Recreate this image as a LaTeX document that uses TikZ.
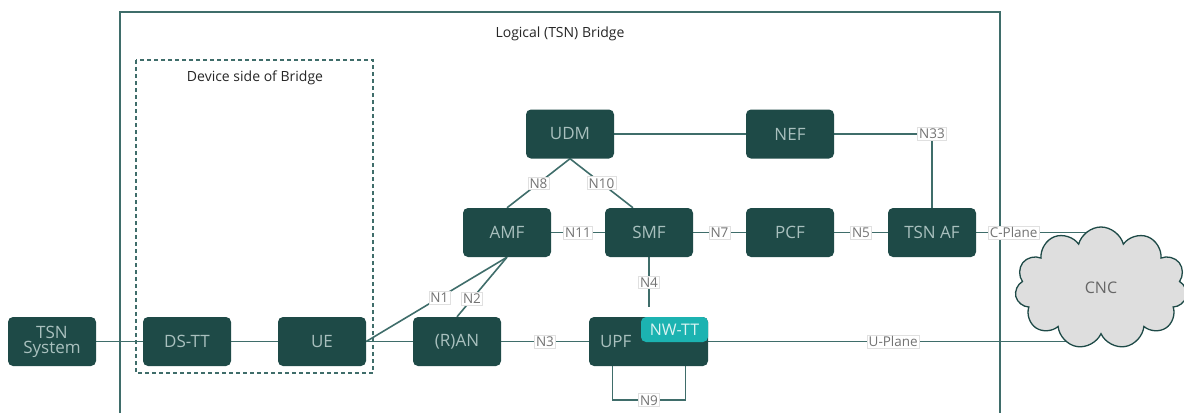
\documentclass[tikz,border=0pt]{standalone}
\usepackage{fontspec}
\setmainfont{Open Sans}
\usetikzlibrary{positioning,shapes.symbols,backgrounds}

\definecolor{nfdark}{HTML}{1E4A47}
\definecolor{nftext}{HTML}{A9C0BE}
\definecolor{link}{HTML}{3F6D6A}
\definecolor{ttcyan}{HTML}{1CB3B1}
\definecolor{cloudgray}{HTML}{DEDEDE}

\begin{document}
\begin{tikzpicture}[
  x=1pt, y=-1pt,
  nf/.style={fill=nfdark, text=nftext, rounded corners=5pt, align=center, inner sep=2pt,
    minimum width=88pt, minimum height=49pt, font=\fontsize{17}{19}\selectfont},
  ln/.style={draw=link, line width=1.6pt},
  lbl/.style={fill=white, draw=black!12, line width=0.6pt, text=black!55, inner sep=1.5pt,
    font=\fontsize{13.5}{14}\selectfont},
  ttl/.style={text=black!85, font=\fontsize{14}{16}\selectfont},
]
\useasboundingbox (0,0) rectangle (1184,413);

% network functions
\node[nf] (tsnsys) at (52,341.5) {TSN\\[-4pt]System};
\node[nf] (dstt) at (187,341.5) {DS-TT};
\node[nf] (ue) at (322,341.5) {UE};
\node[nf] (ran) at (457,341.5) {(R)AN};
\node[nf, minimum width=119pt, text width=97pt, inner xsep=11pt, align=left] (upf) at (648.5,341.5) {UPF};
\node[nf, fill=ttcyan, text=white!85!ttcyan, minimum width=67pt, minimum height=25pt, font=\fontsize{16}{18}\selectfont] (nwtt) at (674.5,329.5) {NW-TT};
\node[nf] (amf) at (507,232.5) {AMF};
\node[nf] (smf) at (649,232.5) {SMF};
\node[nf] (pcf) at (790,232.5) {PCF};
\node[nf] (tsnaf) at (932,232.5) {TSN AF};
\node[nf] (udm) at (570,134) {UDM};
\node[nf] (nef) at (790,134) {NEF};
\node[cloud, cloud puffs=11, aspect=1.4, draw=nfdark, fill=cloudgray, line width=1.3pt,
  minimum width=172pt, minimum height=122pt, text=black!60, font=\fontsize{16}{18}\selectfont] (cnc) at (1101,288) {CNC};

\node[ttl] (brtitle) at (560,34) {Logical (TSN) Bridge};
\node[ttl] (devtitle) at (255,78) {Device side of Bridge};

\begin{scope}[on background layer]
% bridge frame, open at the bottom
\draw[ln] (120,413) -- (120,12) -- (1000,12) -- (1000,413);
\draw[ln, line width=1.3pt, dash pattern=on 4pt off 3pt] (136,60) rectangle (373,373);

% user plane
\draw[ln] (tsnsys) -- (dstt);
\draw[ln] (dstt) -- (ue);
\draw[ln] (ue) -- (ran);
\draw[ln] (ran) -- node[lbl] {N3} (upf);
\draw[ln] (upf) -- node[lbl, pos=0.51] {U-Plane} ([xshift=-30pt]cnc.center |- upf);
\draw[ln] ([xshift=-36pt]upf.south) -- ++(0,34) -| node[lbl, pos=0.25] {N9} ([xshift=37pt]upf.south);

% control plane
\draw[ln] (ue.east) -- node[lbl, pos=0.52] {N1} (amf.south);
\draw[ln] (ran.north) -- node[lbl, pos=0.3] {N2} (amf.south);
\draw[ln] (udm.south) -- node[lbl] {N8} (amf.north);
\draw[ln] (udm.south) -- node[lbl] {N10} ([xshift=-16pt]smf.north);
\draw[ln] (udm) -- (nef);
\draw[ln] (amf) -- node[lbl] {N11} (smf);
\draw[ln] (smf) -- node[lbl] {N7} (pcf);
\draw[ln] (pcf) -- node[lbl] {N5} (tsnaf);
\draw[ln] (smf.south) -- node[lbl] {N4} ++(0,50);
\draw[ln] (nef.east) -| node[lbl] {N33} (tsnaf.north);
\draw[ln] (tsnaf) -- node[lbl, pos=0.3] {C-Plane} (cnc.center |- tsnaf);
\end{scope}
\end{tikzpicture}
\end{document}
